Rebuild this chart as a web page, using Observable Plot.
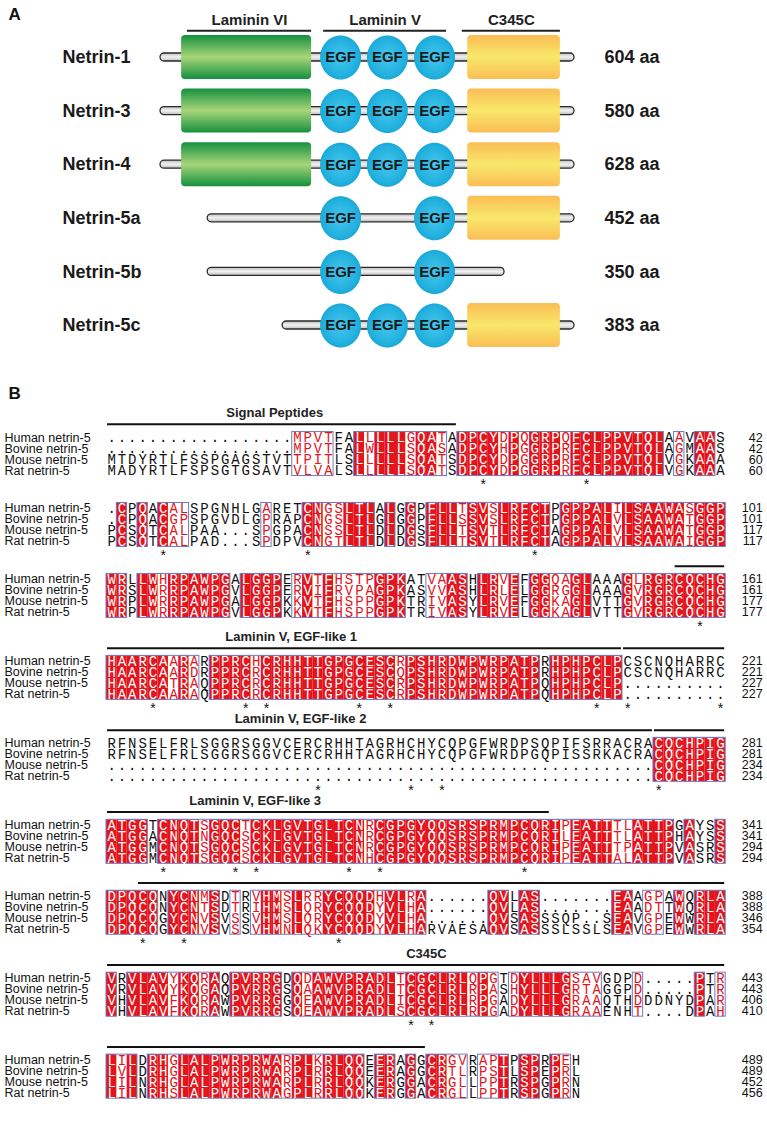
<!DOCTYPE html>
<html><head><meta charset="utf-8">
<script src="https://cdn.jsdelivr.net/npm/d3@7"></script>
<script src="https://cdn.jsdelivr.net/npm/@observablehq/plot@0.6"></script>
<style>
body{margin:0;background:#fff;width:767px;overflow:hidden}
svg{display:block}
</style></head><body>
<svg width="0" height="0" style="position:absolute">
<defs>
<linearGradient id="gGreen" x1="0" y1="0" x2="0" y2="1">
<stop offset="0" stop-color="#14903e"/><stop offset="0.5" stop-color="#a8d57a"/><stop offset="1" stop-color="#14903e"/>
</linearGradient>
<linearGradient id="gYellow" x1="0" y1="0" x2="0" y2="1">
<stop offset="0" stop-color="#fbbd55"/><stop offset="0.5" stop-color="#f8e86a"/><stop offset="1" stop-color="#fbbd55"/>
</linearGradient>
<radialGradient id="gCyan" cx="0.5" cy="0.5" r="0.55">
<stop offset="0" stop-color="#45c6ec"/><stop offset="0.75" stop-color="#22b1df"/><stop offset="1" stop-color="#15a3d3"/>
</radialGradient>
<linearGradient id="gBar" x1="0" y1="0" x2="0" y2="1">
<stop offset="0" stop-color="#bdbdbd"/><stop offset="0.5" stop-color="#f2f2f2"/><stop offset="1" stop-color="#bdbdbd"/>
</linearGradient>
</defs></svg>
<div id="a"></div>
<div id="b"></div>
<script>
// ---------------- Part A data ----------------
const netrinNames = ["Netrin-1","Netrin-3","Netrin-4","Netrin-5a","Netrin-5b","Netrin-5c"];
const netrinLengths = [604,580,628,452,350,383];
// schematic units: full Netrin-1 bar = 0..100
const barStart = [0,0,0,11.4,11.4,29.5];
const barEnd = [100,100,100,100,83.1,100];
const hasLamVI = [true,true,true,false,false,false];
const egfSlots = [[1,2,3],[1,2,3],[1,2,3],[1,3],[1,3],[1,2,3]];
const hasC345C = [true,true,true,true,false,true];
const egfCenters = [43.5,54.8,66.2];
const lamVIExtent = [5.1,36.5];
const c345cExtent = [74.2,96.6];
const headerNames = ["Laminin VI","Laminin V","C345C"];
const headerStart = [6.5,39.4,72.9];
const headerEnd = [36.5,69.1,96.6];

// ---------------- Part B data ----------------
const seqNames = ["Human netrin-5","Bovine netrin-5","Mouse netrin-5","Rat netrin-5"];
const block1 = [
"..................MPVTFALLLLLGQATADPCYDPQGRPQFCLPPVTQLAAVAAS",
"..................MPVTFALWLLLSQASADPCYHPGGRPRFCLPPVTQLAGMAAS",
"MTDYRTLFSSPGAGSTVTTPITLSLLLLLSQATSDPCYDPGGRPRFCLPPVTQLVGKAAA",
"MADYRTLFSPSGTGSAVTVLVALSLLLLLSQATSDPCYDPGGRPRFCLPPVTQLVGKAAA"];
const block2 = [
".CPQACALSPGNHLGARETCNGSLTLALGGPFLLTSVSLRFCTPGPPALILSAAWASGGP",
".CPQACGPSPGVDLGPRAPCNGSLTLGLGGPFLLSSVSLRFCTPGPPALVLSAAWATGGP",
"PCSQTCALPAA...SPGPACNSSLTLDLDGSFLLTSVTLRFCTAGPPALVLSAAWATGGP",
"PCSQTCALPAD...SPDPVCNGTLTLDLDGSFLLTSVTLRFCTAGPPALVLSAAWAIGGP"];
const block3 = [
"WRLLWHRPAWPGALGGPERVTFHSTPGPKATVAASHLRVEFGGQAGLAAAGLRGRCQCHG",
"WRSLWRRPAWPGVLGGPERVIFRVPAGPKASVVASHLRLELGGRGGLAAAGVRGRCQCHG",
"WRPLWRRPAWPGALGGPKKVTFHSPPGPKTRIVASYLRVEFGGKAGLVTTGVRGRCQCHG",
"WRPLWRRPAWPGVLGGPKKVTFHSPPGPKTRIVASYLRVELGGKAGLVTTGVRGRCQCHG"];
const block4 = [
"HAARCAARARPPRCHCRHHTTGPGCESCRPSHRDWPWRPATPRHPHPCLPCSCNQHARRC",
"HAARCAARDRPPRCRCRHHTTGPGCESCQPSHRDWPWRPATPRHPHPCLPCSCNQHARRC",
"HAARCATRAQPPRCRCRHHTTGPGCESCRPSHRDWPWRPATPQHPHPCLP..........",
"HAARCAARAQPPRCRCRHHTTGPGCESCRPSHRDWPWRPATPQHPHPCLP.........."];
const block5 = [
"RFNSELFRLSGGRSGGVCERCRHHTAGRHCHYCQPGFWRDPSQPIFSRRACRACQCHPIG",
"RFNSELFRLSGGRSGGVCERCRHHTAGRHCHYCQPGFWRDPGQPISSRKACRACQCHPIG",
".....................................................CQCHPIG",
".....................................................CQCHPIG"];
const block6 = [
"ATGGTCNQTSGQCTCKLGVTGLTCNRCGPGYQQSRSPRMPCQRIPEATTTLATTPGAYSS",
"ATGGACNQTNGQCSCKLGVTGLTCNRCGPGYQQSRSPRMPCQRILEATTTLATTPHAYSS",
"ATGGMCNQTSGQCSCKLGVTGLTCNRCGPGYQQSRSPRMPCQRIPEATTTPATTPVASRS",
"ATGGMCNQTSGQCSCKLGVTGLTCNHCGPGYQQSRSPRMPCQRIPEATTALATTPVASRS"];
const block7 = [
"DPQCQNYCNMSDTRVHMSLRRYCQQDHVLRA......QVLAS.......EAAGPAWQRLA",
"DPQCQNYCNTSDTRIHMSLQRYCQQDYVLHA......QVLAS.......EAADTTWQRLA",
"DPQCQGYCNVSVSSVHMSLQRYCQQDYVLHA......QVSASSSQP..SEAVGPEWWRLA",
"DPQCQGYCNVSVSSVHMNLQKYCQQDYVLHARVAESAQVSASSSLSSLSEAVGPEWWRLA"];
const block8 = [
"VRVLAVYKQRAQPVRRGDQDAWVPRADLTCGCLRLQPGTDYLLLGSAVGDPD.....PTR",
"VRVLAVYKQGAQPVRRGSQAAWVPRADLTCGCLRLRPASHYLLLGRTAGGPD.....PTR",
"VHVLAVFKQRAWPVRRGGQEAWVPRADLICGCLRLRPGADYLLLGRAAQTHDDDNYDPAR",
"VHVLAVFKQRAWPVRRGSQEAWVPRADLSCGCLRLRPGADYLLLGRAAENHT....DPAH"];
const block9 = [
"LILDRHGLALPWRPRWARPLKRLQQEERAGGCRGVRAPTPSPRPEH",
"LVLDRHGLALPWRPRWARPLRRLQQEERAGGCRTLRPSTLSPEPRL",
"LILNRHGLALPWRPRWARPLRRLQQKERGGACRGLLPPTRSPGPRN",
"LILNRHSLALPWRPRWAGPLRRLQQKERGGACRGLLPPTRSPGPRN"];
const blockEnds = [[42,42,60,60],[101,101,117,117],[161,161,177,177],[221,221,227,227],
  [281,281,234,234],[341,341,294,294],[388,388,346,354],[443,443,406,410],[489,489,452,456]];
const starCols = [[37,47],[6,20,42],[58],[5,14,16,25,28,48,51,60],[21,30,33,54],[6,13,15,24,27,41],[4,8,23],[30,32],[]];
const annBlock = [0,2,3,3,4,4,5,6,7,8];
const annFrom  = [1,56,1,51,1,54,1,4,1,1];
const annTo    = [34,60,50,60,53,60,43,60,60,31];
const annLabel = ["Signal Peptides","","Laminin V, EGF-like 1","","Laminin V, EGF-like 2","","Laminin V, EGF-like 3","","C345C",""];
const annLabelCol = [16.3,0,17.9,0,18.8,0,14.4,0,31,0];

// ---------------- Part A ----------------
const sans = "'Liberation Sans Narrow','Arial Narrow','Liberation Sans',Arial,sans-serif";
const rowsA = netrinNames.map((name,i)=>({name,i,len:netrinLengths[i]+" aa",x1:barStart[i],x2:barEnd[i]}));
const egfItems = rowsA.flatMap(r => egfSlots[r.i].map(s => ({i:r.i, x:egfCenters[s-1]})));
const headers = headerNames.map((name,k)=>({name,x1:headerStart[k],x2:headerEnd[k]}));
const ellipse = {draw(ctx,size){const r=Math.sqrt(size/Math.PI);const rx=r*0.93,ry=r,k=0.5523;
  ctx.moveTo(rx,0);ctx.bezierCurveTo(rx,k*ry,k*rx,ry,0,ry);ctx.bezierCurveTo(-k*rx,ry,-rx,k*ry,-rx,0);
  ctx.bezierCurveTo(-rx,-k*ry,-k*rx,-ry,0,-ry);ctx.bezierCurveTo(k*rx,-ry,rx,-k*ry,rx,0);ctx.closePath();}};
const HA = 375;
const plotA = Plot.plot({
  width:767, height:HA, marginLeft:160, marginRight:193, marginTop:57, marginBottom:HA-325,
  x:{domain:[0,100], axis:null}, y:{domain:[0,5], reverse:true, axis:null},
  style:{fontFamily:sans, background:"#fff"},
  marks:[
    Plot.text(["A"], {x:-36.7, y:-0.8, text:d=>d, textAnchor:"start", fontSize:17, fontWeight:"bold", fill:"#111"}),
    Plot.ruleY(headers, {y:-0.5, x1:"x1", x2:"x2", stroke:"#222", strokeWidth:2}),
    Plot.text(headers, {x:d=>(d.x1+d.x2)/2, y:-0.7, text:"name", fontSize:15, fontWeight:"bold", fill:"#222"}),
    Plot.rect(rowsA, {x1:"x1", x2:"x2", y1:d=>d.i-0.075, y2:d=>d.i+0.075, rx:4, fill:"url(#gBar)", stroke:"#2a2a2a", strokeWidth:1.3}),
    Plot.rect(rowsA.filter(r=>hasLamVI[r.i]), {x1:lamVIExtent[0], x2:lamVIExtent[1], y1:d=>d.i-0.41, y2:d=>d.i+0.41, rx:4, fill:"url(#gGreen)"}),
    Plot.rect(rowsA.filter(r=>hasC345C[r.i]), {x1:c345cExtent[0], x2:c345cExtent[1], y1:d=>d.i-0.41, y2:d=>d.i+0.41, rx:4, fill:"url(#gYellow)"}),
    Plot.dot(egfItems, {x:"x", y:"i", r:22, symbol:ellipse, fill:"url(#gCyan)", stroke:"none"}),
    Plot.text(egfItems, {x:"x", y:"i", text:d=>"EGF", fontSize:15, fontWeight:"bold", fill:"#1a1a1a"}),
    Plot.text(rowsA, {frameAnchor:"left", y:"i", dx:-98, text:"name", textAnchor:"start", fontSize:18, fontWeight:"bold", fill:"#1a1a1a"}),
    Plot.text(rowsA, {x:100, y:"i", dx:30, text:"len", textAnchor:"start", fontSize:18, fontWeight:"bold", fill:"#1a1a1a"})
  ]
});
document.getElementById("a").append(plotA);

// ---------------- Part B ----------------
const blocks = [block1,block2,block3,block4,block5,block6,block7,block8,block9];
const groups = ["ILVM","FYW","KR","DE","ST","NQ"];
function colClass(chars){
  if (chars.some(ch => ch === undefined || ch === ".")) return 0;
  if (chars.every(ch => ch === chars[0])) return 2;
  const counts = d3.rollup(chars, v=>v.length, d=>d);
  if (d3.max(counts.values()) >= 3) return 1;
  for (const g of groups) if (chars.filter(ch => g.includes(ch)).length >= 3) return 1;
  return 0;
}
const extraGap = [0,0,0,1,1,1,0,1,1];
const bases = []; { let yb = 5.64; for (let b=0;b<blocks.length;b++){ if (b>0) yb += 6.45 + extraGap[b]; bases.push(yb); } }
const cells=[], idCols=[], frames=[], nameRows=[], endRows=[], stars=[];
blocks.forEach((rows,b)=>{
  const base = bases[b];
  const ncol = d3.max(rows, r=>r.length);
  const cls = d3.range(ncol).map(c => colClass(rows.map(r=>r[c])));
  cls.forEach((k,c)=>{ if (k===2) idCols.push({c:c+1, base}); });
  let start = null;
  for (let c=0;c<=ncol;c++){
    const on = c<ncol && cls[c]>0;
    if (on && start===null) start=c;
    if (!on && start!==null){ frames.push({x1:start, x2:c, base}); start=null; }
  }
  rows.forEach((r,s)=>{
    nameRows.push({name:seqNames[s], y:base+s});
    endRows.push({n:blockEnds[b][s], y:base+s});
    [...r].forEach((ch,c)=>cells.push({ch, c:c+1, y:base+s, k:cls[c]}));
  });
  starCols[b].forEach(c=>stars.push({c, y:base+4.3}));
});
const anns = annBlock.map((b,k)=>({x1:annFrom[k]-1, x2:annTo[k], y:bases[b]-1.2, label:annLabel[k], lc:annLabelCol[k], ly:bases[b]-2.25}));
const HB = 1144-HA;
const RED = "#e3141c", BLUE = "#6a7cc6";
const mono = "'Liberation Mono','Courier New',monospace";
const plotB = Plot.plot({
  width:767, height:HB, marginLeft:106, marginRight:767-725.2, marginTop:0, marginBottom:0,
  x:{domain:[0,60], axis:null}, y:{domain:[0,HB/11], reverse:true, axis:null},
  style:{fontFamily:"'Liberation Sans',Arial,sans-serif", background:"#fff"},
  marks:[
    Plot.text(["B"], {x:-9.5, y:1.64, text:d=>d, textAnchor:"start", fontSize:17, fontWeight:"bold", fontFamily:sans, fill:"#111"}),
    Plot.rect(idCols, {x1:d=>d.c-1, x2:"c", y1:d=>d.base-0.5, y2:d=>d.base+3.5, fill:RED}),
    Plot.rect(frames, {x1:"x1", x2:"x2", y1:d=>d.base-0.5, y2:d=>d.base+3.5, fill:"none", stroke:BLUE, strokeWidth:1}),
    Plot.text(cells, {x:d=>d.c-0.5, y:"y", text:"ch", fontFamily:mono, fontSize:14,
      fontWeight:d=>d.k===2?"bold":"normal",
      fill:d=>d.k===2?"#fff":d.k===1?RED:"#111"}),
    Plot.text(nameRows, {frameAnchor:"left", y:"y", dx:-102, text:"name", textAnchor:"start", fontSize:12.5, fill:"#111"}),
    Plot.text(endRows, {frameAnchor:"right", y:"y", dx:37, text:"n", textAnchor:"end", fontSize:12.5, fill:"#111"}),
    Plot.text(stars, {x:d=>d.c-0.5, y:"y", text:d=>"*", fontSize:14, fill:"#111"}),
    Plot.ruleY(anns, {y:"y", x1:"x1", x2:"x2", insetLeft:1, insetRight:1, stroke:"#111", strokeWidth:2}),
    Plot.text(anns.filter(a=>a.label), {x:"lc", y:"ly", text:"label", fontSize:13, fontWeight:"bold", fontFamily:sans, fill:"#222"})
  ]
});
document.getElementById("b").append(plotB);
</script>
</body></html>
